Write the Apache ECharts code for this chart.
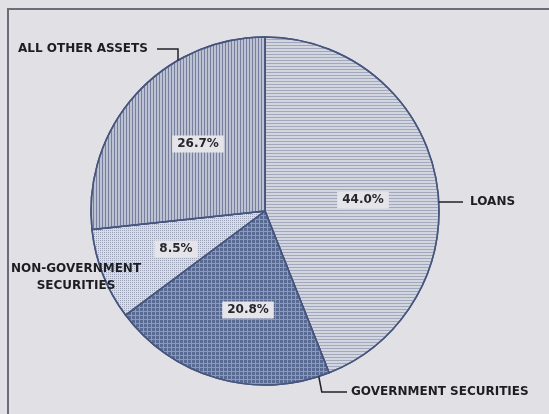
<!DOCTYPE html>
<html>
<head>
<meta charset="utf-8">
<script src="https://cdn.jsdelivr.net/npm/echarts@6/dist/echarts.min.js"></script>
<style>
html,body{margin:0;padding:0;background:#e1e0e5;}
#c{width:549px;height:414px;}
</style>
</head>
<body>
<div id="c"></div>
<script>
// Data (clockwise from 12 o'clock)
const categories = ['LOANS', 'GOVERNMENT SECURITIES', 'NON-GOVERNMENT\nSECURITIES', 'ALL OTHER ASSETS'];
const shares = [44.0, 20.8, 8.5, 26.7];

const CX = 265, CY = 211, R = 174;
function edge(deg) { // clockwise from top
  const a = deg * Math.PI / 180;
  return [CX + R * Math.sin(a), CY - R * Math.cos(a)];
}

const sliceStyles = [
  { color: '#d3d6df', decal: { symbol: 'rect', symbolSize: 1, dashArrayX: [1, 0], dashArrayY: [1, 2], color: 'rgba(120,130,160,0.55)' } },
  { color: '#8e9aba', decal: { symbol: 'rect', symbolSize: 1, dashArrayX: [3, 1], dashArrayY: [3, 1], color: 'rgba(82,100,142,0.9)' } },
  { color: '#dadce4', decal: { symbol: 'rect', symbolSize: 1, dashArrayX: [1, 1], dashArrayY: [1, 1], color: 'rgba(120,128,155,0.6)' } },
  { color: '#bcc2d2', decal: { symbol: 'rect', symbolSize: 1, dashArrayX: [1, 2], dashArrayY: [1, 0], color: 'rgba(95,105,140,0.75)' } }
];

const innerPos = [[363, 200], [248, 310], [176, 249], [198, 144]];

const outerLayout = [
  function () { const e = edge(87); return { x: 470, y: 202, align: 'left', verticalAlign: 'middle', labelLinePoints: [e, [e[0] + 12, e[1]], [463, 202]] }; },
  function () { const e = edge(162); return { x: 351, y: 392, align: 'left', verticalAlign: 'middle', labelLinePoints: [e, [e[0] + 3, 392], [347, 392]] }; },
  function () { return { x: 76, y: 277, align: 'center', verticalAlign: 'middle', labelLinePoints: [[0, 0], [0, 0], [0, 0]] }; },
  function () { const e = edge(330); return { x: 18, y: 49, align: 'left', verticalAlign: 'middle', labelLinePoints: [e, [e[0], 49], [157, 49]] }; }
];

const chart = echarts.init(document.getElementById('c'), null, { renderer: 'canvas' });
chart.setOption({
  backgroundColor: '#e1e0e5',
  animation: false,
  graphic: [{
    type: 'rect', shape: { x: 8, y: 9, width: 620, height: 500 },
    style: { fill: 'none', stroke: '#6c6c7a', lineWidth: 2 }, silent: true
  }],
  series: [
    {
      type: 'pie',
      center: [CX, CY],
      radius: R,
      startAngle: 90,
      clockwise: true,
      silent: true,
      data: categories.map((n, i) => ({ name: n, value: shares[i], itemStyle: { color: sliceStyles[i].color, decal: sliceStyles[i].decal } })),
      itemStyle: { borderColor: '#46557d', borderWidth: 1.5 },
      label: {
        show: true,
        position: 'inside',
        formatter: p => p.value.toFixed(1) + '%',
        fontFamily: 'DejaVu Sans',
        fontWeight: 'bold',
        fontSize: 12,
        color: '#26262c',
        backgroundColor: '#e4e4e9',
        padding: [3, 5, 2, 5]
      },
      labelLine: { show: false },
      labelLayout: p => ({ x: innerPos[p.dataIndex][0], y: innerPos[p.dataIndex][1], align: 'center', verticalAlign: 'middle' })
    },
    {
      type: 'pie',
      center: [CX, CY],
      radius: R,
      startAngle: 90,
      clockwise: true,
      silent: true,
      z: 3,
      data: categories.map((n, i) => ({ name: n, value: shares[i], labelLine: { show: i !== 2 } })),
      itemStyle: { color: 'rgba(0,0,0,0)', borderWidth: 0 },
      label: {
        show: true,
        position: 'outside',
        overflow: 'none',
        formatter: '{b}',
        fontFamily: 'DejaVu Sans',
        fontWeight: 'bold',
        fontSize: 12,
        lineHeight: 17,
        align: 'center',
        color: '#1e1e22'
      },
      labelLine: { show: true, lineStyle: { color: '#222228', width: 1.5 } },
      labelLayout: p => outerLayout[p.dataIndex]()
    }
  ]
});
</script>
</body>
</html>
